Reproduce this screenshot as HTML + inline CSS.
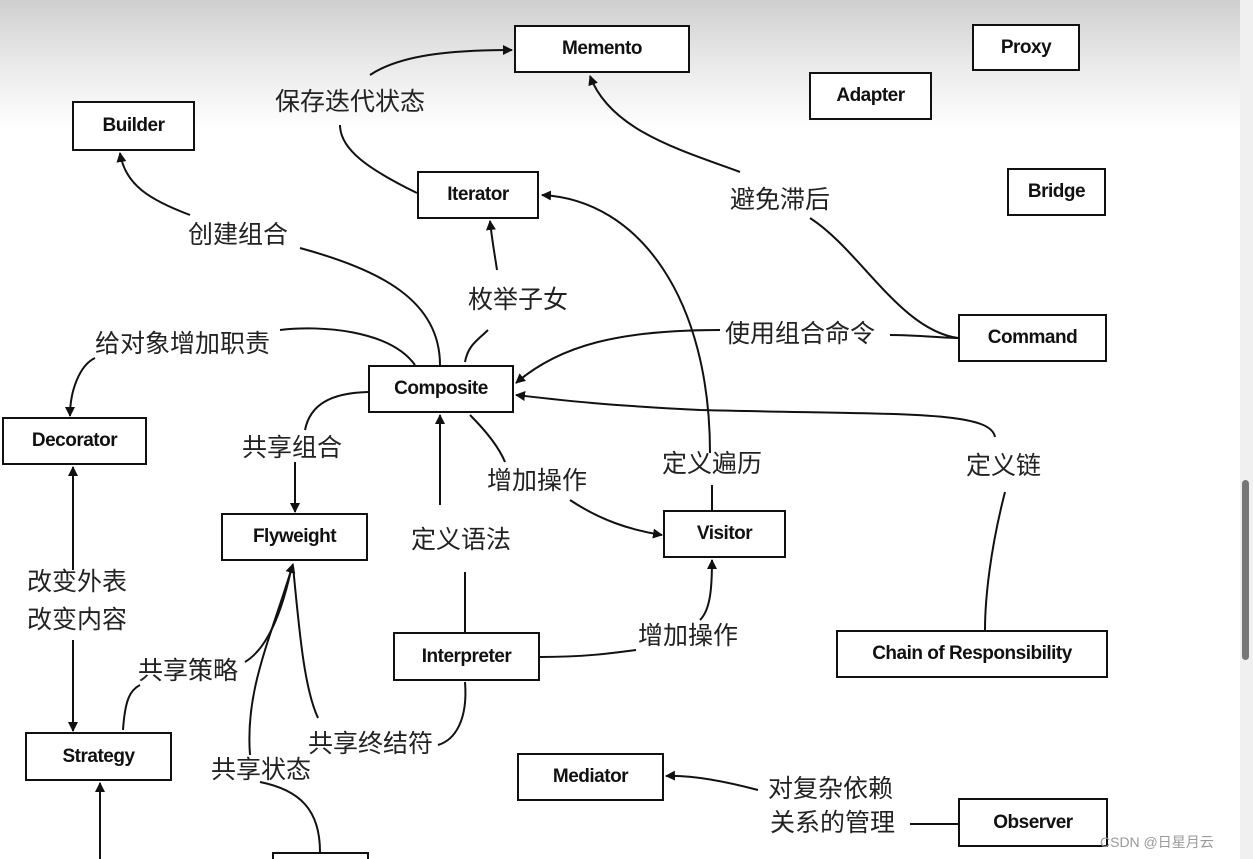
<!DOCTYPE html>
<html><head><meta charset="utf-8"><style>
html,body{margin:0;padding:0;overflow:hidden;width:1253px;height:859px;}
body{position:relative;background:linear-gradient(#cfcfcf 0px,#e8e8e8 60px,#fff 130px,#fff);font-family:"Liberation Sans","Noto Sans CJK SC",sans-serif;}
.b{position:absolute;border:2px solid #111;background:#fff;box-sizing:border-box;display:flex;align-items:center;justify-content:center;font-weight:bold;font-size:19px;color:#111;letter-spacing:-0.5px;}
.t{position:absolute;font-size:25px;color:#222;white-space:nowrap;line-height:1;}
svg{position:absolute;left:0;top:0;}
</style></head><body>
<svg width="1253" height="859">
<defs><marker id="a" markerWidth="10" markerHeight="10" refX="9" refY="5" orient="auto" markerUnits="userSpaceOnUse"><path d="M0,0 L10,5 L0,10 z" fill="#111"/></marker></defs>
<g fill="none" stroke="#111" stroke-width="2">
<path d="M370,75 C400,55 450,50 512,50" marker-end="url(#a)"/>
<path d="M417,193 C370,170 340,150 340,125"/>
<path d="M740,172 C680,150 610,130 590,76" marker-end="url(#a)"/>
<path d="M810,218 C860,250 900,330 958,338"/>
<path d="M190,215 C150,200 125,185 120,153" marker-end="url(#a)"/>
<path d="M300,248 C380,270 440,300 440,365"/>
<path d="M497,270 C494,250 492,240 490,221" marker-end="url(#a)"/>
<path d="M465,362 C468,345 478,340 488,330"/>
<path d="M710,453 C710,300 640,200 542,195" marker-end="url(#a)"/>
<path d="M720,330 C620,330 560,345 516,383" marker-end="url(#a)"/>
<path d="M890,335 C920,335 940,338 958,338"/>
<path d="M995,437 C990,410 900,415 700,410 C600,405 560,400 516,395" marker-end="url(#a)"/>
<path d="M1005,492 C990,550 985,600 985,630"/>
<path d="M415,365 C390,330 320,325 280,330"/>
<path d="M95,358 C80,365 70,390 70,416" marker-end="url(#a)"/>
<path d="M73,570 L73,467" marker-end="url(#a)"/>
<path d="M73,640 L73,731" marker-end="url(#a)"/>
<path d="M368,392 C330,393 310,405 305,430"/>
<path d="M295,462 L295,512" marker-end="url(#a)"/>
<path d="M470,415 C490,435 500,450 505,462"/>
<path d="M570,500 C600,520 630,530 662,535" marker-end="url(#a)"/>
<path d="M712,485 L712,510"/>
<path d="M440,505 C440,470 440,440 440,415" marker-end="url(#a)"/>
<path d="M465,572 L465,632"/>
<path d="M540,657 C590,657 620,652 636,650"/>
<path d="M700,620 C710,610 712,590 712,560" marker-end="url(#a)"/>
<path d="M250,755 C245,690 270,640 293,564" marker-end="url(#a)"/>
<path d="M318,718 C305,690 300,640 293,566"/>
<path d="M245,662 C265,650 280,620 291,570"/>
<path d="M123,730 C125,700 130,690 140,685"/>
<path d="M465,682 C468,720 455,740 438,745"/>
<path d="M260,782 C300,790 320,810 320,852"/>
<path d="M100,859 L100,783" marker-end="url(#a)"/>
<path d="M758,790 C720,780 690,775 666,776" marker-end="url(#a)"/>
<path d="M910,824 L958,824"/>
</g>
</svg>
<div class="b" style="left:514px;top:25px;width:176px;height:48px">Memento</div>
<div class="b" style="left:972px;top:24px;width:108px;height:47px">Proxy</div>
<div class="b" style="left:809px;top:72px;width:123px;height:48px">Adapter</div>
<div class="b" style="left:72px;top:101px;width:123px;height:50px">Builder</div>
<div class="b" style="left:417px;top:171px;width:122px;height:48px">Iterator</div>
<div class="b" style="left:1007px;top:168px;width:99px;height:48px">Bridge</div>
<div class="b" style="left:958px;top:314px;width:149px;height:48px">Command</div>
<div class="b" style="left:368px;top:365px;width:146px;height:48px">Composite</div>
<div class="b" style="left:2px;top:417px;width:145px;height:48px">Decorator</div>
<div class="b" style="left:221px;top:513px;width:147px;height:48px">Flyweight</div>
<div class="b" style="left:663px;top:510px;width:123px;height:48px">Visitor</div>
<div class="b" style="left:393px;top:632px;width:147px;height:49px">Interpreter</div>
<div class="b" style="left:836px;top:630px;width:272px;height:48px">Chain of Responsibility</div>
<div class="b" style="left:25px;top:732px;width:147px;height:49px">Strategy</div>
<div class="b" style="left:517px;top:753px;width:147px;height:48px">Mediator</div>
<div class="b" style="left:958px;top:798px;width:150px;height:49px">Observer</div>
<div class="b" style="left:272px;top:852px;width:97px;height:7px;border-bottom:none"></div>
<div class="t" style="left:275px;top:90px">保存迭代状态</div>
<div class="t" style="left:730px;top:188px">避免滞后</div>
<div class="t" style="left:188px;top:223px">创建组合</div>
<div class="t" style="left:468px;top:288px">枚举子女</div>
<div class="t" style="left:725px;top:322px">使用组合命令</div>
<div class="t" style="left:95px;top:332px">给对象增加职责</div>
<div class="t" style="left:242px;top:436px">共享组合</div>
<div class="t" style="left:662px;top:452px">定义遍历</div>
<div class="t" style="left:966px;top:454px">定义链</div>
<div class="t" style="left:487px;top:469px">增加操作</div>
<div class="t" style="left:411px;top:528px">定义语法</div>
<div class="t" style="left:27px;top:570px">改变外表</div>
<div class="t" style="left:27px;top:608px">改变内容</div>
<div class="t" style="left:638px;top:624px">增加操作</div>
<div class="t" style="left:138px;top:659px">共享策略</div>
<div class="t" style="left:308px;top:732px">共享终结符</div>
<div class="t" style="left:211px;top:758px">共享状态</div>
<div class="t" style="left:768px;top:777px">对复杂依赖</div>
<div class="t" style="left:770px;top:811px">关系的管理</div>
<div style="position:absolute;left:1100px;top:832px;font-size:14px;color:#999">CSDN @日星月云</div>
<div style="position:absolute;left:1240px;top:0;width:13px;height:859px;background:#f0f0f0"></div>
<div style="position:absolute;left:1242px;top:480px;width:7px;height:180px;background:#777;border-radius:4px"></div>
</body></html>
